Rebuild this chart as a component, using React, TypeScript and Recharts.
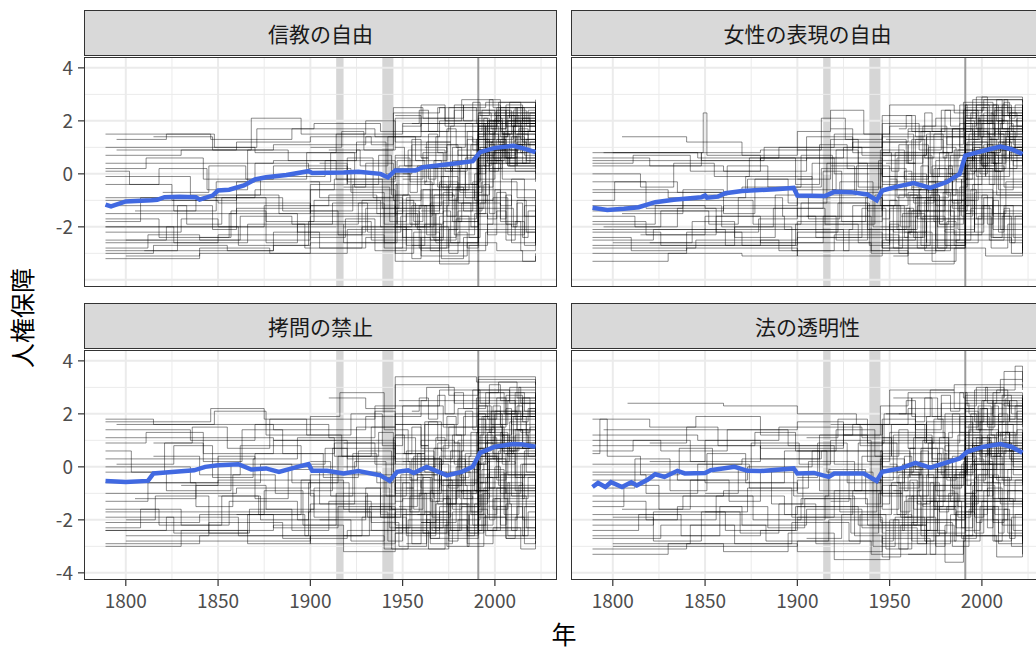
import { LineChart, Line, XAxis, YAxis, ReferenceLine, ReferenceArea } from "recharts";

const FONT = '"Noto Sans CJK JP", "Noto Sans", sans-serif';

type Pt = [number, number];

const X_DOMAIN = [1777.35, 2033.65];
const Y_DOMAIN = [-4.27, 4.41];
const X_TICKS = [1800, 1850, 1900, 1950, 2000];
const X_MINOR = [1825, 1875, 1925, 1975, 2025];
const Y_TICKS = [-4, -2, 0, 2, 4];
const Y_MINOR = [-3, -1, 1, 3];
const WAR_PERIODS: Pt[] = [
  [1914, 1918],
  [1939, 1945],
];
const COLD_WAR_END = 1991;

const PANEL_TITLES = ["信教の自由", "女性の表現の自由", "拷問の禁止", "法の透明性"];

// yearly mean across countries (blue line)
const MEAN_RELIGION: Pt[] = [
  [1789, -1.16], [1792, -1.23], [1800, -1.04], [1814, -1.0], [1817, -0.98], [1821, -0.88],
  [1829, -0.86], [1838, -0.88], [1840, -0.97], [1847, -0.82], [1850, -0.63], [1856, -0.6],
  [1864, -0.44], [1870, -0.21], [1876, -0.13], [1887, -0.04], [1899, 0.1], [1901, 0.03],
  [1918, 0.05], [1926, 0.08], [1938, 0.0], [1942, -0.13], [1946, 0.13], [1957, 0.13],
  [1961, 0.25], [1977, 0.38], [1988, 0.48], [1992, 0.82], [2000, 0.98], [2010, 1.06],
  [2015, 0.97], [2022, 0.82],
];
const MEAN_WOMEN: Pt[] = [
  [1789, -1.28], [1797, -1.36], [1806, -1.32], [1814, -1.26], [1823, -1.07], [1833, -0.98],
  [1848, -0.88], [1850, -0.82], [1851, -0.9], [1857, -0.86], [1861, -0.73], [1870, -0.65],
  [1888, -0.58], [1898, -0.53], [1900, -0.82], [1915, -0.84], [1920, -0.68], [1929, -0.69],
  [1938, -0.78], [1943, -1.0], [1946, -0.63], [1954, -0.48], [1963, -0.35], [1972, -0.53],
  [1981, -0.31], [1988, 0.0], [1991, 0.69], [1996, 0.78], [2003, 0.91], [2010, 1.03],
  [2016, 0.93], [2022, 0.75],
];
const MEAN_TORTURE: Pt[] = [
  [1789, -0.53], [1800, -0.57], [1812, -0.53], [1815, -0.25], [1825, -0.19], [1837, -0.13],
  [1843, 0.0], [1850, 0.06], [1861, 0.1], [1868, -0.1], [1876, -0.06], [1883, -0.19],
  [1893, 0.0], [1899, 0.1], [1901, -0.15], [1909, -0.15], [1918, -0.25], [1926, -0.16],
  [1938, -0.32], [1943, -0.53], [1947, -0.19], [1953, -0.13], [1956, -0.23], [1963, 0.0],
  [1974, -0.32], [1982, -0.19], [1988, 0.0], [1992, 0.53], [2000, 0.76], [2010, 0.86],
  [2015, 0.84], [2022, 0.76],
];
const MEAN_TRANSPARENCY: Pt[] = [
  [1789, -0.76], [1792, -0.61], [1796, -0.76], [1799, -0.58], [1805, -0.76], [1810, -0.58],
  [1813, -0.7], [1819, -0.48], [1823, -0.28], [1828, -0.38], [1835, -0.15], [1839, -0.25],
  [1850, -0.23], [1853, -0.13], [1866, 0.0], [1873, -0.15], [1880, -0.16], [1898, -0.06],
  [1900, -0.25], [1909, -0.23], [1917, -0.38], [1920, -0.25], [1936, -0.25], [1943, -0.53],
  [1946, -0.19], [1956, -0.06], [1964, 0.15], [1972, -0.03], [1982, 0.19], [1988, 0.32],
  [1992, 0.57], [2001, 0.76], [2010, 0.86], [2016, 0.76], [2022, 0.53],
];

// country trajectories, as [year, score] change points
const COUNTRIES_RELIGION: Pt[][] = [
  [[1789, -2.8], [1812, -2.3], [1840, -2.5], [1862, -1.6], [1890, -1.9], [1918, -2.6], [1946, -1.2], [1975, -0.4], [1991, 1.2], [2005, 1.6], [2022, 1.4]],
  [[1789, 0.7], [1830, 0.9], [1860, 1.2], [1900, 1.4], [1933, 1.1], [1945, 2.3], [1970, 2.5], [1995, 2.7], [2022, 2.4]],
  [[1789, -1.8], [1808, -0.9], [1826, -1.4], [1849, -0.3], [1870, 0.4], [1899, 0.2], [1922, -0.7], [1940, -1.9], [1947, 0.5], [1962, 0.2], [1990, 1.3], [2010, 1.8], [2022, 1.6]],
  [[1789, -3.0], [1815, -2.7], [1855, -2.9], [1880, -2.2], [1905, -2.8], [1930, -2.4], [1960, -3.1], [1985, -2.6], [2001, -2.9], [2015, -3.3], [2022, -3.0]],
  [[1789, 0.1], [1802, -0.4], [1818, 0.2], [1844, -0.6], [1866, 0.9], [1888, 0.5], [1914, -0.2], [1939, -1.3], [1948, 0.3], [1969, -0.5], [1992, 0.8], [2008, 0.3], [2022, 0.6]],
  [[1789, -2.2], [1830, -1.7], [1850, -2.0], [1875, -1.2], [1910, -0.8], [1936, -1.5], [1958, -2.1], [1980, -1.4], [1993, -0.3], [2012, -0.9], [2022, -0.6]],
  [[1795, 1.3], [1822, 1.5], [1848, 1.0], [1871, 1.7], [1902, 1.9], [1938, 1.6], [1946, 2.1], [1978, 2.4], [2000, 2.2], [2022, 2.0]],
  [[1810, -2.9], [1828, -1.2], [1847, -2.1], [1860, -0.8], [1883, -1.5], [1900, -0.4], [1920, 0.6], [1934, -0.9], [1950, -2.4], [1972, -1.8], [1991, 0.9], [2006, 0.4], [2022, 0.2]],
  [[1820, -0.7], [1845, 0.3], [1865, -0.2], [1898, 0.8], [1925, 1.2], [1941, 0.0], [1955, 1.1], [1980, 0.7], [1994, 1.9], [2022, 2.2]],
  [[1840, -2.4], [1857, -1.4], [1876, -2.6], [1893, -1.9], [1912, -1.1], [1931, -2.2], [1949, -1.6], [1966, -0.6], [1989, -1.0], [1999, 0.4], [2022, 0.9]],
  [[1900, -0.3], [1911, 0.8], [1924, -0.5], [1943, -1.8], [1952, -0.9], [1965, -2.5], [1979, -1.7], [1990, 0.2], [2004, 1.1], [2022, 0.5]],
  [[1900, 1.0], [1917, 1.6], [1929, 0.9], [1945, 2.5], [1961, 2.1], [1983, 2.6], [2003, 2.3], [2022, 2.5]],
  [[1900, -1.4], [1915, -2.3], [1928, -1.0], [1946, -3.0], [1956, -2.2], [1970, -3.4], [1986, -2.7], [1996, -1.9], [2009, -2.6], [2022, -2.2]],
  [[1905, 0.4], [1920, -0.4], [1937, 0.7], [1944, -0.8], [1953, 0.9], [1968, 1.4], [1988, 0.9], [1997, 2.0], [2022, 1.7]],
  [[1918, -1.9], [1926, -1.1], [1940, -2.6], [1947, -1.4], [1959, -2.8], [1974, -1.2], [1991, 1.5], [2002, 1.1], [2016, 1.9], [2022, 1.8]],
  [[1946, 0.6], [1954, -0.3], [1963, 1.2], [1976, 0.1], [1985, 1.6], [1993, 2.4], [2008, 2.1], [2022, 2.3]],
  [[1948, -1.1], [1957, -2.0], [1967, -0.8], [1978, -2.3], [1989, -1.5], [1995, 0.7], [2011, 1.3], [2022, 1.0]],
  [[1950, 1.8], [1960, 2.6], [1973, 2.0], [1982, 2.8], [1999, 2.5], [2022, 2.6]],
  [[1955, -2.7], [1962, -1.9], [1971, -3.2], [1983, -2.4], [1992, -1.1], [2003, -1.8], [2014, -2.9], [2022, -2.4]],
  [[1958, 0.2], [1965, -0.9], [1977, 0.5], [1987, -0.4], [1991, 1.7], [2001, 2.2], [2013, 1.6], [2022, 1.9]],
  [[1991, 1.0], [1996, 2.0], [2004, 1.5], [2010, 2.4], [2017, 1.8], [2022, 2.1]],
  [[1991, 0.3], [1998, 1.2], [2005, 0.6], [2012, 1.5], [2022, 1.1]],
  [[1991, -0.8], [1997, 0.4], [2003, -1.2], [2009, -0.2], [2016, -1.6], [2022, -0.9]],
  [[1991, 1.6], [1999, 0.9], [2006, 2.0], [2014, 1.3], [2022, 1.5]],
  [[1789, -2.6], [1850, -2.3], [1900, -1.2], [1946, -2.0], [1991, 0.6], [2022, 0.9]],
  [[1789, 1.0], [1870, 0.8], [1914, 1.5], [1950, 1.9], [1991, 2.3], [2022, 2.1]],
  [[1789, -0.4], [1825, -1.0], [1860, -0.3], [1905, -0.9], [1945, -0.1], [1980, -1.1], [1995, 0.5], [2022, 0.2]],
  [[1800, -3.1], [1840, -2.8], [1878, -3.0], [1920, -2.1], [1960, -2.9], [1995, -2.2], [2022, -2.7]],
  [[1789, -1.2], [1833, -1.9], [1852, -0.9], [1885, -1.4], [1923, -0.4], [1947, -1.9], [1972, -1.0], [1991, 0.1], [2022, -0.3]],
  [[1815, 1.4], [1847, 0.9], [1868, 2.1], [1895, 1.5], [1930, 2.0], [1946, 1.2], [1976, 1.8], [2001, 2.5], [2022, 2.8]],
  [[1900, -2.4], [1919, -1.7], [1935, -2.9], [1952, -1.5], [1968, -2.6], [1991, -1.3], [2010, -2.0], [2022, -1.6]],
  [[1910, 0.9], [1927, 0.3], [1942, 1.4], [1957, 0.5], [1974, 1.1], [1991, 1.9], [2022, 1.5]],
  [[1918, -0.5], [1930, 0.4], [1945, -1.0], [1960, 0.3], [1981, -0.7], [1993, 0.9], [2012, 0.3], [2022, 0.6]],
  [[1946, -2.0], [1955, -1.2], [1966, -2.4], [1979, -0.9], [1991, 0.5], [2004, -0.2], [2022, 0.1]],
  [[1946, 2.2], [1960, 1.6], [1975, 2.5], [1990, 1.9], [2002, 2.7], [2022, 2.2]],
  [[1950, -0.2], [1961, 0.8], [1972, -0.6], [1984, 0.6], [1991, 1.4], [2007, 2.0], [2022, 1.8]],
  [[1960, -1.4], [1970, -0.3], [1980, -1.8], [1991, -0.5], [1999, 0.8], [2011, 0.1], [2022, 0.5]],
  [[1962, 1.0], [1974, 0.2], [1985, 1.3], [1991, 2.2], [2003, 1.6], [2022, 2.0]],
  [[1991, 2.3], [1998, 1.7], [2006, 2.6], [2015, 2.0], [2022, 2.4]],
  [[1991, 0.7], [1995, 1.8], [2002, 1.2], [2011, 2.1], [2022, 1.7]],
  [[1991, -1.9], [1999, -0.9], [2007, -2.3], [2016, -1.2], [2022, -2.6]],
  [[1991, 1.3], [1997, 0.5], [2005, 1.4], [2014, 0.8], [2022, 1.2]],
  [[1991, -0.2], [2000, 1.0], [2008, 0.4], [2017, 1.3], [2022, 0.9]],
  [[1991, 2.0], [2003, 2.5], [2012, 1.9], [2022, 2.3]],
  [[1789, -2.9], [1880, -2.7], [1900, -2.0], [1946, -2.6], [1991, -1.0], [2022, -1.4]],
  [[1789, -1.5], [1860, -1.3], [1900, -0.6], [1946, -1.3], [1991, 0.4], [2022, 0.0]],
  [[1789, 0.4], [1880, 0.5], [1925, 0.9], [1946, 1.6], [2022, 1.9]],
  [[1789, -2.0], [1900, -1.6], [1946, -0.8], [1991, 1.1], [2022, 1.3]],
  [[1789, -0.9], [1870, -0.6], [1913, -0.2], [1946, 0.2], [1991, 1.5], [2022, 1.2]],
  [[1795, 0.9], [1880, 1.1], [1930, 1.4], [1960, 1.9], [2022, 2.6]],
  [[1800, -2.5], [1900, -2.3], [1940, -2.8], [1975, -2.1], [2022, -2.5]],
  [[1789, -1.0], [1850, -1.1], [1900, -1.5], [1946, -0.4], [1991, 0.6], [2022, 0.4]],
  [[1946, -1.5], [1950, -0.8], [1954, -1.9], [1959, -1.2], [1963, -2.3], [1968, -1.5], [1972, -0.7], [1977, -1.8], [1982, -1.1], [1987, -2.0], [1991, 0.3], [1995, 1.2], [1999, 0.6], [2004, 1.5], [2008, 0.9], [2013, 1.7], [2018, 1.1], [2022, 1.4]],
  [[1946, 1.0], [1951, 0.3], [1955, 1.3], [1960, 0.6], [1964, 1.5], [1969, 0.8], [1974, 1.7], [1979, 1.0], [1984, 1.9], [1988, 1.2], [1991, 2.1], [1996, 1.6], [2001, 2.4], [2006, 1.8], [2011, 2.5], [2016, 1.9], [2022, 2.2]],
  [[1946, -2.8], [1950, -2.1], [1955, -3.2], [1960, -2.4], [1965, -2.9], [1970, -2.0], [1975, -3.0], [1980, -2.2], [1985, -2.8], [1991, -1.5], [1996, -2.3], [2001, -1.4], [2006, -2.5], [2011, -1.8], [2016, -2.7], [2022, -2.0]],
  [[1950, 0.0], [1954, -0.7], [1958, 0.3], [1962, -0.4], [1967, 0.5], [1971, -0.5], [1976, 0.4], [1981, -0.6], [1986, 0.2], [1991, 1.3], [1995, 0.7], [2000, 1.6], [2005, 1.0], [2010, 1.8], [2015, 1.2], [2022, 1.5]],
  [[1952, -1.0], [1956, -1.8], [1961, -0.6], [1965, -1.5], [1970, -0.4], [1974, -1.6], [1979, -0.5], [1983, -1.4], [1988, -0.3], [1992, 0.8], [1997, 0.1], [2002, 1.0], [2007, 0.3], [2012, 1.2], [2017, 0.5], [2022, 0.8]],
  [[1955, 1.9], [1959, 2.4], [1964, 1.6], [1969, 2.5], [1973, 1.8], [1978, 2.6], [1983, 2.0], [1988, 2.7], [1992, 2.2], [1997, 2.8], [2003, 2.1], [2008, 2.7], [2014, 2.2], [2022, 2.5]],
  [[1958, -2.0], [1962, -1.2], [1967, -2.5], [1972, -1.4], [1976, -2.6], [1981, -1.6], [1986, -2.4], [1991, -0.8], [1996, -1.7], [2001, -0.7], [2006, -1.9], [2012, -1.0], [2017, -2.2], [2022, -1.3]],
  [[1960, 0.6], [1964, -0.2], [1968, 0.9], [1973, 0.1], [1977, 1.0], [1982, 0.2], [1987, 1.1], [1991, 1.9], [1995, 1.3], [2000, 2.1], [2004, 1.5], [2009, 2.2], [2014, 1.6], [2019, 2.3], [2022, 1.8]],
  [[1962, -0.3], [1966, -1.2], [1971, -0.1], [1975, -1.0], [1980, 0.1], [1984, -0.9], [1989, 0.0], [1992, 1.0], [1996, 0.4], [2001, 1.3], [2006, 0.6], [2011, 1.4], [2016, 0.7], [2022, 1.1]],
  [[1991, 1.4], [1994, 2.1], [1997, 1.5], [2000, 2.3], [2003, 1.7], [2006, 2.4], [2009, 1.8], [2012, 2.5], [2015, 1.9], [2018, 2.4], [2022, 2.0]],
  [[1991, 0.9], [1994, 0.3], [1997, 1.1], [2000, 0.5], [2003, 1.3], [2006, 0.6], [2009, 1.4], [2012, 0.8], [2015, 1.5], [2018, 0.9], [2022, 1.3]],
  [[1991, -1.3], [1994, -0.4], [1997, -1.5], [2000, -0.6], [2003, -1.7], [2006, -0.8], [2009, -2.0], [2012, -1.1], [2015, -2.4], [2018, -1.4], [2022, -2.1]],
  [[1991, 1.8], [1995, 1.2], [1999, 2.0], [2003, 1.4], [2007, 2.2], [2011, 1.5], [2015, 2.1], [2019, 1.6], [2022, 1.9]],
  [[1991, 0.0], [1995, 0.9], [1999, 0.2], [2003, 1.0], [2007, 0.3], [2011, 1.1], [2015, 0.4], [2019, 1.2], [2022, 0.6]],
  [[1789, -3.2], [1840, -3.0], [1900, -2.6], [1946, -3.3], [2022, -3.1]],
  [[1789, -1.7], [1818, -2.4], [1856, -1.5], [1893, -2.2], [1930, -1.3], [1960, -0.6], [1991, 0.8], [2022, 1.0]],
  [[1789, 0.2], [1811, 0.6], [1842, -0.2], [1880, 0.3], [1920, -0.3], [1946, 0.7], [1991, 1.8], [2022, 2.0]],
  [[1789, -2.5], [1822, -2.0], [1861, -2.7], [1899, -1.8], [1933, -2.5], [1970, -1.6], [2022, -1.9]],
  [[1789, -0.1], [1835, -0.8], [1873, -0.1], [1908, 0.5], [1946, 0.1], [1980, 0.9], [2022, 1.6]],
  [[1805, -1.4], [1838, -0.9], [1876, -1.8], [1902, -1.0], [1938, -2.0], [1965, -1.1], [1991, 0.2], [2022, 0.7]],
  [[1789, 1.5], [1846, 1.3], [1890, 1.7], [1935, 1.4], [1970, 2.0], [2022, 2.3]],
  [[1789, -2.0], [1826, -2.6], [1866, -1.9], [1897, -2.8], [1928, -2.0], [1952, -2.7], [1991, -0.6], [2022, -1.0]],
];
const COUNTRIES_WOMEN: Pt[][] = [
  [[1789, -1.6], [1812, -2.0], [1835, -1.3], [1856, -2.2], [1879, -1.7], [1900, -0.6], [1921, 0.9], [1933, -0.5], [1946, 1.2], [1967, 1.6], [1990, 2.4], [2022, 2.2]],
  [[1789, 0.6], [1820, 0.3], [1848, 0.8], [1849, 2.3], [1851, 0.7], [1880, 0.5], [1905, 1.4], [1930, 0.8], [1950, 1.8], [1975, 2.1], [1995, 2.8], [2022, 2.5]],
  [[1789, -2.4], [1810, -2.9], [1840, -2.2], [1870, -2.7], [1900, -2.1], [1925, -2.9], [1950, -1.8], [1970, -2.6], [1991, -0.9], [2010, -2.1], [2022, -1.7]],
  [[1789, -1.0], [1801, -0.3], [1818, -1.3], [1838, -0.6], [1860, -1.5], [1877, -0.2], [1895, -1.1], [1916, 0.4], [1938, -1.4], [1946, 0.2], [1959, -0.9], [1982, 0.3], [1993, 1.5], [2012, 1.0], [2022, 0.7]],
  [[1789, -3.3], [1830, -3.0], [1870, -3.1], [1900, -2.6], [1940, -2.9], [1960, -3.4], [1985, -2.8], [2002, -3.1], [2022, -2.7]],
  [[1789, 0.0], [1815, -0.5], [1833, 0.4], [1855, -0.1], [1874, 0.6], [1899, -0.4], [1912, 1.1], [1927, 0.2], [1945, -1.2], [1953, 0.8], [1972, 0.0], [1991, 1.9], [2007, 1.4], [2022, 1.6]],
  [[1795, -2.0], [1826, -1.4], [1852, -1.9], [1868, -0.9], [1892, -1.6], [1910, -2.4], [1935, -1.3], [1948, -2.5], [1964, -1.6], [1980, -2.2], [1996, -0.7], [2022, -1.1]],
  [[1805, 1.4], [1840, 1.2], [1870, 0.7], [1900, 1.6], [1918, 2.4], [1936, 1.5], [1950, 2.6], [1985, 2.3], [2000, 2.9], [2022, 2.7]],
  [[1820, -2.6], [1843, -1.8], [1866, -2.4], [1888, -0.8], [1906, -1.7], [1923, -0.3], [1941, -2.0], [1955, -0.8], [1977, -1.9], [1990, 0.6], [2004, -0.4], [2022, 0.1]],
  [[1850, -0.8], [1862, 0.3], [1884, -0.5], [1902, 0.7], [1919, -0.6], [1944, 0.5], [1962, 1.3], [1979, 0.6], [1988, 1.9], [2005, 2.3], [2022, 2.0]],
  [[1900, -1.3], [1914, 0.1], [1924, -1.8], [1937, -0.9], [1946, -2.8], [1957, -1.5], [1969, -2.9], [1983, -1.2], [1993, 0.4], [2008, -0.8], [2022, -0.3]],
  [[1900, 0.9], [1913, 2.1], [1926, 1.3], [1946, 1.9], [1966, 0.9], [1978, 1.7], [1991, 2.6], [2014, 2.2], [2022, 2.4]],
  [[1910, -2.2], [1922, -1.1], [1939, -2.7], [1950, -1.3], [1961, -2.3], [1975, -0.6], [1987, -1.4], [1992, 1.2], [2003, 0.6], [2022, 0.9]],
  [[1918, 0.3], [1931, -0.7], [1945, 0.9], [1958, -0.2], [1971, 1.0], [1986, -0.3], [1991, 2.0], [2009, 1.5], [2022, 1.2]],
  [[1946, -0.4], [1954, 0.6], [1963, -1.1], [1974, 0.2], [1984, -0.8], [1991, 1.4], [1998, 2.1], [2011, 1.7], [2022, 1.9]],
  [[1948, 1.3], [1959, 0.4], [1968, 1.8], [1981, 1.1], [1990, 2.7], [2006, 2.2], [2022, 2.6]],
  [[1952, -3.1], [1960, -2.2], [1973, -3.3], [1986, -2.5], [1994, -1.3], [2005, -2.4], [2016, -3.0], [2022, -2.6]],
  [[1956, -1.6], [1966, -0.6], [1976, -2.0], [1985, -1.0], [1991, 0.9], [2001, 0.2], [2013, 1.3], [2022, 0.8]],
  [[1960, 0.0], [1970, -1.4], [1980, -0.2], [1989, -1.6], [1995, -0.4], [2007, 0.9], [2022, 0.4]],
  [[1991, 1.8], [1997, 2.6], [2004, 1.9], [2012, 2.8], [2022, 2.3]],
  [[1991, 0.5], [1996, 1.6], [2003, 0.8], [2010, 1.9], [2017, 1.1], [2022, 1.4]],
  [[1991, -1.0], [1998, 0.2], [2006, -1.5], [2013, -0.3], [2022, -2.0]],
  [[1991, 1.1], [2000, 0.3], [2007, 1.6], [2015, 0.7], [2022, 1.0]],
  [[1991, -2.1], [1996, -1.2], [2004, -2.5], [2012, -1.4], [2022, -1.8]],
  [[1789, -2.8], [1845, -2.5], [1890, -2.9], [1920, -2.3], [1955, -2.7], [1991, -1.5], [2022, -2.1]],
  [[1789, 0.3], [1860, 0.1], [1905, 0.6], [1946, -0.3], [1985, 0.9], [1991, 1.7], [2022, 1.5]],
  [[1789, -1.9], [1823, -1.2], [1859, -2.0], [1887, -1.3], [1915, -1.9], [1942, -0.8], [1967, -1.7], [1991, -0.2], [2022, -0.6]],
  [[1789, -0.6], [1830, -0.9], [1872, -0.1], [1908, -0.8], [1932, 0.3], [1950, -0.6], [1975, 0.5], [1995, 1.2], [2022, 0.9]],
  [[1800, 0.8], [1848, 0.5], [1882, 1.0], [1920, 1.5], [1946, 0.7], [1970, 1.4], [1991, 2.2], [2022, 2.0]],
  [[1815, -2.3], [1850, -1.6], [1880, -2.6], [1914, -1.6], [1940, -2.4], [1960, -1.4], [1985, -2.3], [2000, -1.2], [2022, -1.9]],
  [[1900, -0.2], [1918, 1.3], [1933, 0.4], [1946, 1.5], [1963, 0.6], [1981, 1.4], [1991, 2.5], [2022, 2.1]],
  [[1905, -1.6], [1921, -2.5], [1938, -1.2], [1952, -2.2], [1970, -1.0], [1991, 0.3], [2012, -0.5], [2022, -0.1]],
  [[1918, 1.7], [1930, 1.0], [1946, 2.2], [1962, 1.6], [1980, 2.4], [1998, 2.0], [2022, 2.6]],
  [[1946, -1.2], [1958, -2.4], [1969, -1.0], [1980, -2.7], [1991, -0.6], [2006, -1.6], [2022, -1.0]],
  [[1948, 0.4], [1960, 1.1], [1971, -0.3], [1983, 0.7], [1991, 1.6], [2004, 1.0], [2022, 1.4]],
  [[1952, -2.1], [1964, -0.9], [1975, -2.5], [1988, -1.2], [1996, 0.1], [2010, -0.9], [2022, -0.4]],
  [[1960, 1.6], [1972, 0.8], [1984, 1.7], [1991, 2.6], [2008, 2.0], [2022, 2.4]],
  [[1962, -0.9], [1973, 0.3], [1984, -1.3], [1991, 0.8], [2002, -0.1], [2015, 0.8], [2022, 0.3]],
  [[1991, 2.1], [1999, 1.4], [2007, 2.5], [2016, 1.6], [2022, 1.9]],
  [[1991, 0.0], [1996, 1.0], [2005, 0.4], [2013, 1.4], [2022, 0.9]],
  [[1991, -2.6], [1998, -1.6], [2005, -2.8], [2014, -1.9], [2022, -3.0]],
  [[1991, 1.3], [1998, 2.0], [2006, 1.1], [2015, 1.8], [2022, 1.5]],
  [[1991, -0.4], [2000, 0.7], [2009, -0.6], [2017, 0.5], [2022, -0.2]],
  [[1991, 2.4], [2001, 2.8], [2011, 2.2], [2022, 2.6]],
  [[1789, -2.7], [1880, -2.5], [1900, -2.2], [1946, -2.8], [1991, -1.2], [2022, -1.6]],
  [[1789, -1.4], [1860, -1.2], [1900, -0.9], [1946, -1.4], [1991, 0.2], [2022, -0.2]],
  [[1789, 0.5], [1880, 0.6], [1925, 1.0], [1946, 1.4], [2022, 2.1]],
  [[1789, -2.1], [1900, -1.8], [1946, -1.0], [1991, 0.9], [2022, 1.1]],
  [[1789, -0.7], [1870, -0.5], [1913, 0.2], [1946, -0.1], [1991, 1.3], [2022, 1.0]],
  [[1795, 0.8], [1880, 0.9], [1930, 1.2], [1960, 1.7], [2022, 2.4]],
  [[1800, -2.6], [1900, -2.4], [1940, -3.0], [1975, -2.3], [2022, -2.8]],
  [[1789, -1.2], [1850, -1.3], [1900, -1.6], [1946, -0.6], [1991, 0.5], [2022, 0.2]],
  [[1946, -1.7], [1950, -1.0], [1954, -2.1], [1959, -1.3], [1963, -2.4], [1968, -1.6], [1972, -0.8], [1977, -1.9], [1982, -1.0], [1987, -2.1], [1991, 0.2], [1995, 1.0], [1999, 0.4], [2004, 1.3], [2008, 0.7], [2013, 1.6], [2018, 0.9], [2022, 1.2]],
  [[1946, 0.8], [1951, 0.1], [1955, 1.1], [1960, 0.4], [1964, 1.3], [1969, 0.6], [1974, 1.5], [1979, 0.8], [1984, 1.7], [1988, 1.0], [1991, 2.0], [1996, 1.4], [2001, 2.3], [2006, 1.7], [2011, 2.6], [2016, 1.8], [2022, 2.1]],
  [[1946, -2.6], [1950, -1.9], [1955, -3.0], [1960, -2.2], [1965, -2.8], [1970, -1.8], [1975, -2.9], [1980, -2.1], [1985, -2.7], [1991, -1.4], [1996, -2.2], [2001, -1.2], [2006, -2.4], [2011, -1.6], [2016, -2.6], [2022, -1.9]],
  [[1950, -0.2], [1954, -0.9], [1958, 0.1], [1962, -0.6], [1967, 0.3], [1971, -0.7], [1976, 0.2], [1981, -0.8], [1986, 0.0], [1991, 1.1], [1995, 0.5], [2000, 1.4], [2005, 0.8], [2010, 1.6], [2015, 1.0], [2022, 1.3]],
  [[1952, -1.2], [1956, -2.0], [1961, -0.8], [1965, -1.7], [1970, -0.6], [1974, -1.8], [1979, -0.7], [1983, -1.6], [1988, -0.5], [1992, 0.6], [1997, -0.1], [2002, 0.8], [2007, 0.1], [2012, 1.0], [2017, 0.3], [2022, 0.6]],
  [[1955, 1.7], [1959, 2.2], [1964, 1.4], [1969, 2.3], [1973, 1.6], [1978, 2.4], [1983, 1.8], [1988, 2.6], [1992, 2.1], [1997, 2.9], [2003, 2.2], [2008, 2.8], [2014, 2.3], [2022, 2.6]],
  [[1958, -2.2], [1962, -1.4], [1967, -2.7], [1972, -1.6], [1976, -2.8], [1981, -1.8], [1986, -2.6], [1991, -1.0], [1996, -1.9], [2001, -0.9], [2006, -2.1], [2012, -1.2], [2017, -2.4], [2022, -1.5]],
  [[1960, 0.4], [1964, -0.4], [1968, 0.7], [1973, -0.1], [1977, 0.8], [1982, 0.0], [1987, 0.9], [1991, 1.7], [1995, 1.1], [2000, 1.9], [2004, 1.3], [2009, 2.0], [2014, 1.4], [2019, 2.1], [2022, 1.6]],
  [[1962, -0.5], [1966, -1.4], [1971, -0.3], [1975, -1.2], [1980, -0.1], [1984, -1.1], [1989, -0.2], [1992, 0.8], [1996, 0.2], [2001, 1.1], [2006, 0.4], [2011, 1.2], [2016, 0.5], [2022, 0.9]],
  [[1991, 1.6], [1994, 2.3], [1997, 1.7], [2000, 2.5], [2003, 1.9], [2006, 2.6], [2009, 2.0], [2012, 2.7], [2015, 2.1], [2018, 2.6], [2022, 2.2]],
  [[1991, 0.7], [1994, 0.1], [1997, 0.9], [2000, 0.3], [2003, 1.1], [2006, 0.4], [2009, 1.2], [2012, 0.6], [2015, 1.3], [2018, 0.7], [2022, 1.1]],
  [[1991, -1.5], [1994, -0.6], [1997, -1.7], [2000, -0.8], [2003, -1.9], [2006, -1.0], [2009, -2.2], [2012, -1.3], [2015, -2.6], [2018, -1.6], [2022, -2.3]],
  [[1991, 1.9], [1995, 1.3], [1999, 2.2], [2003, 1.5], [2007, 2.4], [2011, 1.7], [2015, 2.3], [2019, 1.8], [2022, 2.1]],
  [[1991, -0.2], [1995, 0.7], [1999, 0.0], [2003, 0.8], [2007, 0.1], [2011, 0.9], [2015, 0.2], [2019, 1.0], [2022, 0.4]],
  [[1789, -3.0], [1840, -2.8], [1900, -3.1], [1946, -2.5], [2022, -2.9]],
  [[1789, -1.8], [1818, -2.3], [1856, -1.6], [1893, -2.1], [1930, -1.2], [1960, -0.7], [1991, 0.6], [2022, 0.8]],
  [[1789, 0.4], [1811, 0.7], [1842, 0.1], [1880, 0.6], [1920, 0.0], [1946, 0.8], [1991, 1.6], [2022, 1.8]],
  [[1789, -2.5], [1822, -2.1], [1861, -2.7], [1899, -1.9], [1933, -2.6], [1970, -1.7], [2022, -2.0]],
  [[1789, -0.3], [1835, -0.7], [1873, -0.2], [1908, 0.4], [1946, -0.1], [1980, 0.7], [2022, 1.3]],
  [[1805, -1.5], [1838, -1.0], [1876, -1.9], [1902, -1.1], [1938, -2.1], [1965, -1.2], [1991, 0.1], [2022, 0.5]],
  [[1789, 0.8], [1846, 0.6], [1890, 1.0], [1935, 0.7], [1970, 1.5], [2022, 2.2]],
  [[1789, -2.2], [1826, -2.7], [1866, -2.0], [1897, -2.9], [1928, -2.1], [1952, -2.8], [1991, -0.8], [2022, -1.2]],
];
const COUNTRIES_TORTURE: Pt[][] = [
  [[1789, 1.8], [1815, 1.6], [1848, 2.1], [1876, 1.2], [1900, 1.9], [1916, 2.8], [1940, 1.4], [1946, 3.4], [1990, 3.2], [2022, 3.0]],
  [[1789, -2.3], [1808, -1.6], [1830, -2.2], [1852, -1.1], [1873, -2.0], [1899, -0.6], [1921, -1.7], [1942, -2.8], [1950, -1.2], [1966, -2.4], [1982, -1.5], [1992, 0.7], [2009, -0.2], [2022, 0.3]],
  [[1789, 0.6], [1803, -0.2], [1821, 0.9], [1842, 0.2], [1863, 1.4], [1885, 0.5], [1907, -0.4], [1926, 0.6], [1944, -1.6], [1955, 0.3], [1971, -0.9], [1991, 1.6], [2004, 1.1], [2022, 1.5]],
  [[1789, -3.0], [1830, -2.4], [1866, -2.9], [1900, -2.2], [1918, -3.2], [1946, -2.5], [1968, -2.0], [1985, -2.9], [1999, -2.3], [2014, -3.1], [2022, -2.8]],
  [[1789, -1.3], [1812, -0.6], [1838, -1.5], [1858, -0.3], [1881, -1.0], [1902, -1.9], [1930, -0.8], [1943, -2.3], [1954, -1.1], [1975, -2.6], [1989, -1.4], [1996, 0.2], [2011, -0.9], [2022, -0.5]],
  [[1795, 0.1], [1826, 0.8], [1847, -0.4], [1869, 0.3], [1893, 1.1], [1913, 0.4], [1937, 1.3], [1945, -0.2], [1960, 1.0], [1978, 0.1], [1993, 1.9], [2022, 1.6]],
  [[1800, -2.0], [1816, -1.1], [1845, -2.5], [1867, -1.6], [1890, -2.4], [1910, -1.3], [1933, -2.1], [1948, -3.0], [1963, -1.8], [1986, -2.5], [1994, -0.8], [2022, -1.4]],
  [[1815, 0.9], [1836, 1.5], [1855, 0.7], [1878, 1.8], [1898, 1.2], [1922, 2.0], [1939, 0.8], [1950, 2.3], [1972, 1.5], [1990, 2.6], [2022, 2.3]],
  [[1830, -0.7], [1850, 0.4], [1870, -1.2], [1888, -0.1], [1905, -1.4], [1924, 0.2], [1941, -1.1], [1952, 0.6], [1967, -0.5], [1984, 0.5], [1992, 1.2], [2007, 0.4], [2022, 0.8]],
  [[1860, -1.8], [1875, -0.9], [1896, -2.2], [1914, -1.0], [1931, -1.9], [1946, -0.5], [1960, -2.1], [1979, -0.9], [1991, -2.4], [2003, -1.3], [2022, -1.9]],
  [[1900, 0.2], [1911, -1.1], [1923, 0.5], [1936, -0.6], [1945, 1.1], [1957, -0.3], [1969, 0.9], [1981, -1.2], [1991, 0.9], [2010, 1.9], [2022, 1.3]],
  [[1900, -0.9], [1912, 0.7], [1920, -0.2], [1938, -1.9], [1949, -0.3], [1961, -2.5], [1974, -1.1], [1988, -2.2], [1995, -0.4], [2022, -0.9]],
  [[1910, 2.6], [1930, 2.2], [1946, 3.1], [1975, 2.7], [1991, 3.3], [2022, 3.1]],
  [[1918, -2.6], [1932, -1.5], [1944, -3.1], [1953, -2.0], [1965, -2.9], [1977, -1.7], [1991, 0.4], [2002, -0.7], [2015, 0.1], [2022, -0.3]],
  [[1946, 1.4], [1953, 0.2], [1962, 1.7], [1971, 0.6], [1983, 1.9], [1991, 2.9], [2008, 2.4], [2022, 2.7]],
  [[1948, -1.5], [1958, -0.4], [1966, -1.9], [1976, -0.2], [1987, -1.7], [1993, -0.1], [2005, -1.2], [2016, -0.3], [2022, -1.0]],
  [[1950, 0.5], [1960, -0.8], [1970, 0.4], [1982, -1.0], [1990, 1.3], [1998, 2.1], [2012, 1.4], [2022, 1.8]],
  [[1955, -2.4], [1964, -3.1], [1973, -2.2], [1985, -3.0], [1994, -1.9], [2006, -2.7], [2022, -2.2]],
  [[1960, -0.3], [1969, -1.4], [1979, 0.0], [1989, -0.9], [1996, 1.0], [2009, 0.5], [2022, 0.9]],
  [[1991, 1.9], [1997, 2.8], [2005, 2.0], [2013, 3.0], [2022, 2.5]],
  [[1991, 0.6], [1998, 1.5], [2004, 0.1], [2011, 1.2], [2018, 0.4], [2022, 0.7]],
  [[1991, -1.2], [1997, -0.2], [2005, -1.8], [2013, -0.7], [2022, -1.5]],
  [[1991, 1.1], [2001, 0.2], [2008, 1.7], [2017, 0.9], [2022, 1.3]],
  [[1991, -0.4], [1999, -1.6], [2007, -0.6], [2015, -2.0], [2022, -1.1]],
  [[1789, -2.1], [1840, -1.8], [1880, -2.3], [1915, -1.5], [1946, -2.2], [1975, -1.4], [1991, -0.3], [2022, -0.8]],
  [[1789, 1.4], [1835, 1.0], [1870, 1.6], [1910, 1.1], [1935, 2.1], [1946, 1.6], [1980, 2.2], [1995, 2.8], [2022, 2.6]],
  [[1789, -0.2], [1822, -0.9], [1857, 0.1], [1890, -0.6], [1915, 0.4], [1946, -0.9], [1970, 0.2], [1991, -0.8], [2022, -0.2]],
  [[1800, -2.6], [1845, -2.1], [1885, -2.7], [1920, -2.4], [1946, -1.7], [1965, -2.7], [1991, -1.9], [2022, -2.5]],
  [[1815, 0.4], [1840, -0.3], [1862, 0.8], [1895, 0.0], [1925, 1.0], [1946, 0.1], [1972, 0.8], [1991, 1.8], [2022, 1.2]],
  [[1850, -1.1], [1872, -1.8], [1895, -0.5], [1918, -1.6], [1940, -0.4], [1955, -1.8], [1975, -0.6], [1991, 0.5], [2022, 0.0]],
  [[1900, 1.2], [1917, 0.4], [1933, 1.5], [1946, 0.5], [1962, 1.6], [1978, 0.9], [1991, 2.1], [2022, 1.8]],
  [[1905, -2.0], [1922, -2.8], [1940, -1.6], [1952, -2.6], [1968, -1.4], [1985, -2.4], [1993, -1.0], [2022, -1.6]],
  [[1918, 0.9], [1935, 0.1], [1946, 1.6], [1960, 0.7], [1975, 1.5], [1991, 2.4], [2022, 2.0]],
  [[1946, -0.8], [1956, 0.4], [1967, -1.2], [1980, 0.2], [1991, -1.3], [2003, -0.3], [2022, -0.7]],
  [[1948, 2.5], [1963, 3.0], [1978, 2.4], [1991, 3.4], [2022, 3.2]],
  [[1952, -2.9], [1963, -2.0], [1974, -3.0], [1986, -1.8], [1995, -2.6], [2022, -2.1]],
  [[1960, 0.3], [1971, -0.7], [1982, 0.6], [1991, 1.5], [2005, 0.8], [2022, 1.1]],
  [[1962, -1.7], [1974, -0.7], [1985, -2.0], [1992, -0.6], [2008, -1.4], [2022, -0.9]],
  [[1991, 2.3], [1998, 1.6], [2006, 2.7], [2015, 1.9], [2022, 2.2]],
  [[1991, 0.1], [1996, 1.3], [2004, 0.6], [2012, 1.6], [2022, 1.0]],
  [[1991, -2.2], [1999, -1.2], [2007, -2.6], [2016, -1.5], [2022, -2.9]],
  [[1991, 1.5], [2000, 0.8], [2009, 1.9], [2017, 1.2], [2022, 1.6]],
  [[1991, -0.9], [1997, 0.3], [2006, -1.0], [2014, 0.1], [2022, -0.5]],
  [[1991, 2.8], [2002, 3.2], [2012, 2.6], [2022, 2.9]],
  [[1789, -2.4], [1880, -2.2], [1900, -1.6], [1946, -2.3], [1991, -1.1], [2022, -1.5]],
  [[1789, -1.0], [1860, -0.8], [1900, -0.3], [1946, -1.0], [1991, 0.3], [2022, 0.0]],
  [[1789, 1.1], [1880, 1.0], [1925, 1.5], [1946, 2.0], [2022, 2.4]],
  [[1789, -1.7], [1900, -1.4], [1946, -0.6], [1991, 0.9], [2022, 1.0]],
  [[1789, 0.3], [1870, 0.5], [1913, 0.9], [1946, 0.3], [1991, 1.4], [2022, 1.1]],
  [[1795, 1.6], [1880, 1.4], [1930, 1.9], [1960, 2.5], [2022, 2.8]],
  [[1800, -2.8], [1900, -2.6], [1940, -3.1], [1975, -2.4], [2022, -2.7]],
  [[1789, -0.6], [1850, -0.5], [1900, -1.1], [1946, -0.2], [1991, 0.7], [2022, 0.4]],
  [[1946, -1.3], [1950, -0.6], [1954, -1.7], [1959, -1.0], [1963, -2.1], [1968, -1.3], [1972, -0.5], [1977, -1.6], [1982, -0.9], [1987, -1.8], [1991, 0.1], [1995, 0.9], [1999, 0.3], [2004, 1.2], [2008, 0.6], [2013, 1.4], [2018, 0.8], [2022, 1.1]],
  [[1946, 1.2], [1951, 0.5], [1955, 1.5], [1960, 0.8], [1964, 1.7], [1969, 1.0], [1974, 1.9], [1979, 1.2], [1984, 2.1], [1988, 1.4], [1991, 2.3], [1996, 1.8], [2001, 2.6], [2006, 2.0], [2011, 2.8], [2016, 2.1], [2022, 2.4]],
  [[1946, -2.5], [1950, -1.8], [1955, -2.9], [1960, -2.1], [1965, -2.7], [1970, -1.7], [1975, -2.8], [1980, -2.0], [1985, -2.6], [1991, -1.6], [1996, -2.4], [2001, -1.5], [2006, -2.7], [2011, -1.9], [2016, -2.9], [2022, -2.3]],
  [[1950, 0.2], [1954, -0.5], [1958, 0.5], [1962, -0.2], [1967, 0.7], [1971, -0.3], [1976, 0.6], [1981, -0.4], [1986, 0.4], [1991, 1.0], [1995, 0.3], [2000, 1.2], [2005, 0.5], [2010, 1.4], [2015, 0.7], [2022, 1.0]],
  [[1952, -0.8], [1956, -1.6], [1961, -0.4], [1965, -1.3], [1970, -0.2], [1974, -1.4], [1979, -0.3], [1983, -1.2], [1988, -0.1], [1992, 0.5], [1997, -0.4], [2002, 0.6], [2007, -0.3], [2012, 0.7], [2017, -0.2], [2022, 0.3]],
  [[1955, 2.1], [1959, 2.6], [1964, 1.8], [1969, 2.7], [1973, 2.0], [1978, 2.8], [1983, 2.2], [1988, 2.9], [1992, 2.4], [1997, 3.1], [2003, 2.5], [2008, 3.0], [2014, 2.4], [2022, 2.7]],
  [[1958, -1.8], [1962, -1.0], [1967, -2.3], [1972, -1.2], [1976, -2.4], [1981, -1.4], [1986, -2.2], [1991, -0.9], [1996, -1.8], [2001, -0.8], [2006, -2.0], [2012, -1.1], [2017, -2.3], [2022, -1.4]],
  [[1960, 0.8], [1964, 0.0], [1968, 1.1], [1973, 0.3], [1977, 1.2], [1982, 0.4], [1987, 1.3], [1991, 1.8], [1995, 1.0], [2000, 2.0], [2004, 1.2], [2009, 2.1], [2014, 1.3], [2019, 2.2], [2022, 1.7]],
  [[1962, -0.1], [1966, -1.0], [1971, 0.1], [1975, -0.8], [1980, 0.3], [1984, -0.7], [1989, 0.2], [1992, -0.6], [1996, 0.4], [2001, -0.5], [2006, 0.5], [2011, -0.4], [2016, 0.6], [2022, 0.0]],
  [[1991, 1.2], [1994, 1.9], [1997, 1.3], [2000, 2.1], [2003, 1.5], [2006, 2.2], [2009, 1.6], [2012, 2.3], [2015, 1.7], [2018, 2.2], [2022, 1.8]],
  [[1991, -0.6], [1994, 0.2], [1997, -0.8], [2000, 0.0], [2003, -1.0], [2006, -0.2], [2009, -1.1], [2012, -0.3], [2015, -1.2], [2018, -0.4], [2022, -0.9]],
  [[1991, -1.8], [1994, -1.0], [1997, -2.0], [2000, -1.2], [2003, -2.2], [2006, -1.4], [2009, -2.4], [2012, -1.5], [2015, -2.6], [2018, -1.7], [2022, -2.4]],
  [[1991, 2.0], [1995, 1.4], [1999, 2.3], [2003, 1.6], [2007, 2.5], [2011, 1.8], [2015, 2.6], [2019, 1.9], [2022, 2.3]],
  [[1991, 0.4], [1995, 1.2], [1999, 0.5], [2003, 1.3], [2007, 0.6], [2011, 1.4], [2015, 0.7], [2019, 1.5], [2022, 0.9]],
  [[1789, -2.9], [1840, -2.6], [1900, -2.9], [1946, -2.3], [2022, -2.6]],
  [[1789, -1.6], [1818, -2.2], [1856, -1.3], [1893, -2.0], [1930, -1.1], [1960, -0.5], [1991, 0.7], [2022, 0.9]],
  [[1789, 0.9], [1811, 1.3], [1842, 0.5], [1880, 1.0], [1920, 0.3], [1946, 1.2], [1991, 2.0], [2022, 2.2]],
  [[1789, -2.4], [1822, -1.9], [1861, -2.6], [1899, -1.7], [1933, -2.4], [1970, -1.5], [2022, -1.8]],
  [[1789, 0.0], [1835, -0.6], [1873, 0.1], [1908, 0.7], [1946, 0.2], [1980, 1.0], [2022, 1.4]],
  [[1805, -1.2], [1838, -0.7], [1876, -1.6], [1902, -0.8], [1938, -1.8], [1965, -0.9], [1991, 0.4], [2022, 0.6]],
  [[1789, 1.7], [1846, 2.2], [1875, 1.8], [1935, 2.3], [1970, 2.9], [2022, 3.2]],
  [[1789, -1.9], [1826, -2.5], [1866, -1.8], [1897, -2.6], [1928, -1.9], [1952, -2.5], [1991, -0.9], [2022, -1.3]],
];
const COUNTRIES_TRANSPARENCY: Pt[][] = [
  [[1789, 1.8], [1820, 1.5], [1845, 1.9], [1880, 1.4], [1900, 1.7], [1925, 1.2], [1945, 2.3], [1960, 2.8], [1990, 2.6], [2012, 3.6], [2022, 3.2]],
  [[1808, 2.4], [1860, 2.3], [1900, 2.0], [1932, 1.6], [1950, 2.9], [1985, 3.1], [2022, 2.9]],
  [[1789, -1.5], [1806, -0.7], [1825, -1.6], [1842, -0.5], [1863, -1.3], [1880, -0.2], [1898, -1.1], [1917, -0.1], [1937, -1.4], [1945, 0.6], [1961, -0.4], [1980, 0.5], [1993, 1.4], [2009, 0.8], [2022, 1.1]],
  [[1789, -3.3], [1830, -2.9], [1860, -3.2], [1895, -2.5], [1920, -3.5], [1950, -2.7], [1972, -3.3], [1990, -2.6], [2008, -3.4], [2022, -3.0]],
  [[1789, 0.5], [1793, 1.8], [1797, 0.4], [1815, -0.3], [1836, 0.7], [1854, -0.2], [1875, 0.9], [1901, 0.1], [1918, 1.0], [1940, -0.5], [1952, 1.2], [1973, 0.3], [1991, 1.8], [2022, 1.5]],
  [[1789, -2.4], [1814, -1.8], [1837, -2.6], [1858, -1.5], [1884, -2.3], [1904, -1.2], [1929, -2.5], [1944, -1.0], [1957, -2.4], [1976, -1.3], [1989, -2.7], [1997, -0.9], [2022, -1.5]],
  [[1795, -0.8], [1812, 0.3], [1831, -0.9], [1851, 0.5], [1872, -0.6], [1893, 0.6], [1912, -0.9], [1935, 0.4], [1946, -1.6], [1955, -0.3], [1968, -1.5], [1986, -0.1], [1995, 0.9], [2022, 0.3]],
  [[1800, -1.9], [1822, -2.8], [1848, -1.7], [1869, -2.5], [1890, -1.4], [1910, -2.9], [1934, -1.8], [1948, -3.1], [1962, -2.1], [1984, -3.0], [1993, -1.6], [2014, -2.5], [2022, -2.1]],
  [[1820, 0.9], [1840, 1.5], [1857, 0.8], [1877, 1.3], [1899, 0.6], [1921, 1.4], [1942, 0.4], [1951, 1.6], [1970, 0.9], [1988, 1.9], [2000, 2.5], [2022, 2.2]],
  [[1850, -1.0], [1868, -0.1], [1886, -1.4], [1903, -0.3], [1923, -1.7], [1943, -0.6], [1956, -1.9], [1974, -0.7], [1990, 0.2], [2006, -0.6], [2022, -0.2]],
  [[1900, -0.4], [1911, 0.9], [1927, -0.6], [1945, 0.3], [1958, -0.9], [1967, 0.7], [1979, -0.4], [1991, 1.1], [2004, 0.4], [2022, 0.8]],
  [[1900, -2.0], [1915, -1.1], [1931, -2.6], [1946, -3.4], [1956, -2.2], [1970, -2.9], [1983, -1.8], [1994, -0.6], [2010, -1.4], [2022, -0.9]],
  [[1905, 1.1], [1922, 1.8], [1938, 0.9], [1947, 2.0], [1964, 1.4], [1978, 2.4], [1993, 2.0], [2006, 2.8], [2022, 2.5]],
  [[1918, -1.3], [1928, -0.2], [1941, -1.8], [1951, -0.6], [1963, -1.6], [1975, -0.4], [1987, -1.5], [1996, 0.1], [2012, -0.7], [2022, -0.4]],
  [[1946, 0.9], [1954, -0.2], [1963, 1.1], [1973, 0.1], [1982, 1.3], [1991, 0.6], [1999, 1.7], [2011, 1.0], [2022, 1.3]],
  [[1948, -2.4], [1958, -1.3], [1967, -2.6], [1977, -1.5], [1989, -2.3], [1995, -0.7], [2007, -1.8], [2022, -1.2]],
  [[1952, 2.6], [1962, 1.9], [1972, 2.9], [1985, 2.2], [1996, 2.9], [2018, 3.8], [2022, 3.3]],
  [[1955, -0.8], [1966, 0.2], [1976, -1.1], [1984, 0.4], [1992, -0.3], [2003, 0.9], [2016, 0.2], [2022, 0.5]],
  [[1960, -3.3], [1970, -2.4], [1980, -3.6], [1990, -2.8], [1999, -2.0], [2009, -2.9], [2022, -2.5]],
  [[1991, 1.5], [1998, 2.3], [2005, 1.2], [2013, 2.6], [2022, 1.9]],
  [[1991, 0.2], [1997, 1.1], [2004, -0.4], [2010, 0.9], [2017, 0.0], [2022, 0.4]],
  [[1991, -1.4], [1998, -0.3], [2006, -2.0], [2014, -0.9], [2022, -1.7]],
  [[1991, 0.8], [2000, -0.1], [2008, 1.3], [2015, 0.3], [2022, 0.7]],
  [[1991, -0.5], [1996, -1.8], [2003, -0.8], [2011, -2.2], [2022, -1.3]],
  [[1789, -2.0], [1835, -1.5], [1870, -2.2], [1905, -1.6], [1935, -2.3], [1960, -1.2], [1991, -0.1], [2022, -0.6]],
  [[1789, 1.0], [1826, 0.6], [1862, 1.4], [1895, 0.8], [1925, 1.6], [1946, 0.9], [1970, 1.7], [1991, 2.4], [2022, 2.1]],
  [[1789, -0.3], [1818, -1.0], [1846, 0.1], [1874, -0.8], [1906, 0.2], [1931, -0.9], [1946, 0.5], [1978, -0.3], [1995, 0.6], [2022, 0.2]],
  [[1800, -2.9], [1842, -2.2], [1883, -2.8], [1917, -2.0], [1946, -2.9], [1970, -2.0], [1991, -1.2], [2022, -1.9]],
  [[1820, 0.2], [1850, 1.0], [1880, 0.3], [1912, 1.2], [1938, 0.2], [1950, 1.3], [1980, 0.6], [1993, 1.6], [2022, 1.2]],
  [[1850, -1.7], [1873, -0.8], [1897, -1.9], [1920, -0.9], [1945, -2.1], [1965, -0.9], [1985, -1.8], [1996, -0.4], [2022, -1.0]],
  [[1900, 0.6], [1916, -0.2], [1933, 0.9], [1946, -0.4], [1961, 0.7], [1976, -0.2], [1991, 1.3], [2022, 0.9]],
  [[1905, -2.7], [1924, -1.8], [1941, -3.0], [1953, -1.9], [1969, -2.8], [1986, -1.7], [1995, -0.9], [2022, -1.4]],
  [[1918, 1.6], [1934, 0.8], [1946, 1.8], [1964, 1.1], [1980, 2.0], [1991, 2.7], [2022, 2.4]],
  [[1946, -1.0], [1957, 0.1], [1968, -1.3], [1980, -0.1], [1991, -1.1], [2004, 0.2], [2022, -0.4]],
  [[1948, 2.0], [1962, 2.6], [1976, 1.8], [1991, 2.8], [2010, 3.3], [2022, 3.0]],
  [[1952, -1.8], [1962, -2.8], [1974, -1.6], [1986, -2.6], [1995, -1.3], [2022, -2.0]],
  [[1960, 0.0], [1971, 0.9], [1982, -0.4], [1991, 1.0], [2005, 0.3], [2022, 0.7]],
  [[1962, -0.6], [1974, -1.6], [1985, -0.3], [1992, 0.5], [2008, -0.5], [2022, -0.1]],
  [[1991, 2.1], [1998, 1.4], [2006, 2.5], [2015, 1.7], [2022, 2.2]],
  [[1991, -0.2], [1996, 0.8], [2004, 0.1], [2012, 1.1], [2022, 0.5]],
  [[1991, -2.4], [1999, -1.5], [2007, -2.8], [2016, -1.9], [2022, -3.3]],
  [[1991, 1.2], [2000, 0.5], [2009, 1.6], [2017, 0.9], [2022, 1.3]],
  [[1991, -1.0], [1997, 0.1], [2006, -1.2], [2014, -0.1], [2022, -0.7]],
  [[1991, 2.5], [2002, 3.0], [2012, 2.3], [2022, 2.7]],
  [[1789, -2.6], [1880, -2.4], [1900, -1.9], [1946, -2.5], [1991, -1.3], [2022, -1.7]],
  [[1789, -1.1], [1860, -0.9], [1900, -0.5], [1946, -1.1], [1991, 0.1], [2022, -0.3]],
  [[1789, 0.8], [1880, 0.7], [1925, 1.2], [1946, 1.6], [2022, 2.0]],
  [[1789, -1.8], [1900, -1.5], [1946, -0.7], [1991, 0.7], [2022, 0.9]],
  [[1789, 0.1], [1870, 0.3], [1913, 0.6], [1946, 0.0], [1991, 1.2], [2022, 0.9]],
  [[1795, 1.4], [1880, 1.2], [1930, 1.6], [1960, 2.2], [2022, 2.6]],
  [[1800, -3.0], [1900, -2.8], [1940, -3.3], [1975, -2.6], [2022, -2.9]],
  [[1789, -0.5], [1850, -0.6], [1900, -1.0], [1946, -0.1], [1991, 0.6], [2022, 0.3]],
  [[1946, -1.4], [1950, -0.7], [1954, -1.8], [1959, -1.1], [1963, -2.2], [1968, -1.4], [1972, -0.6], [1977, -1.7], [1982, -1.0], [1987, -1.9], [1991, 0.0], [1995, 0.8], [1999, 0.2], [2004, 1.1], [2008, 0.5], [2013, 1.3], [2018, 0.7], [2022, 1.0]],
  [[1946, 1.1], [1951, 0.4], [1955, 1.4], [1960, 0.7], [1964, 1.6], [1969, 0.9], [1974, 1.8], [1979, 1.1], [1984, 2.0], [1988, 1.3], [1991, 2.2], [1996, 1.7], [2001, 2.5], [2006, 1.9], [2011, 2.7], [2016, 2.0], [2022, 2.3]],
  [[1946, -2.7], [1950, -2.0], [1955, -3.1], [1960, -2.3], [1965, -2.9], [1970, -1.9], [1975, -3.0], [1980, -2.2], [1985, -2.8], [1991, -1.7], [1996, -2.5], [2001, -1.6], [2006, -2.8], [2011, -2.0], [2016, -3.0], [2022, -2.4]],
  [[1950, 0.1], [1954, -0.6], [1958, 0.4], [1962, -0.3], [1967, 0.6], [1971, -0.4], [1976, 0.5], [1981, -0.5], [1986, 0.3], [1991, 0.9], [1995, 0.2], [2000, 1.1], [2005, 0.4], [2010, 1.3], [2015, 0.6], [2022, 0.9]],
  [[1952, -0.9], [1956, -1.7], [1961, -0.5], [1965, -1.4], [1970, -0.3], [1974, -1.5], [1979, -0.4], [1983, -1.3], [1988, -0.2], [1992, 0.4], [1997, -0.5], [2002, 0.5], [2007, -0.4], [2012, 0.6], [2017, -0.3], [2022, 0.2]],
  [[1955, 2.0], [1959, 2.5], [1964, 1.7], [1969, 2.6], [1973, 1.9], [1978, 2.7], [1983, 2.1], [1988, 2.8], [1992, 2.3], [1997, 3.0], [2003, 2.4], [2008, 2.9], [2014, 2.3], [2022, 2.6]],
  [[1958, -1.9], [1962, -1.1], [1967, -2.4], [1972, -1.3], [1976, -2.5], [1981, -1.5], [1986, -2.3], [1991, -1.0], [1996, -1.9], [2001, -0.9], [2006, -2.1], [2012, -1.2], [2017, -2.4], [2022, -1.5]],
  [[1960, 0.7], [1964, -0.1], [1968, 1.0], [1973, 0.2], [1977, 1.1], [1982, 0.3], [1987, 1.2], [1991, 1.7], [1995, 0.9], [2000, 1.9], [2004, 1.1], [2009, 2.0], [2014, 1.2], [2019, 2.1], [2022, 1.6]],
  [[1962, -0.2], [1966, -1.1], [1971, 0.0], [1975, -0.9], [1980, 0.2], [1984, -0.8], [1989, 0.1], [1992, -0.7], [1996, 0.3], [2001, -0.6], [2006, 0.4], [2011, -0.5], [2016, 0.5], [2022, -0.1]],
  [[1991, 1.3], [1994, 2.0], [1997, 1.4], [2000, 2.2], [2003, 1.6], [2006, 2.3], [2009, 1.7], [2012, 2.4], [2015, 1.8], [2018, 2.3], [2022, 1.9]],
  [[1991, -0.7], [1994, 0.1], [1997, -0.9], [2000, -0.1], [2003, -1.1], [2006, -0.3], [2009, -1.2], [2012, -0.4], [2015, -1.3], [2018, -0.5], [2022, -1.0]],
  [[1991, -1.9], [1994, -1.1], [1997, -2.1], [2000, -1.3], [2003, -2.3], [2006, -1.5], [2009, -2.5], [2012, -1.6], [2015, -2.7], [2018, -1.8], [2022, -2.6]],
  [[1991, 1.9], [1995, 1.3], [1999, 2.2], [2003, 1.5], [2007, 2.4], [2011, 1.7], [2015, 2.5], [2019, 1.8], [2022, 2.2]],
  [[1991, 0.3], [1995, 1.1], [1999, 0.4], [2003, 1.2], [2007, 0.5], [2011, 1.3], [2015, 0.6], [2019, 1.4], [2022, 0.8]],
  [[1789, -3.1], [1840, -2.9], [1900, -3.2], [1946, -2.6], [2022, -2.8]],
  [[1789, -1.3], [1818, -2.0], [1856, -1.1], [1893, -1.8], [1930, -0.9], [1960, -0.3], [1991, 0.5], [2022, 0.7]],
  [[1789, 0.6], [1811, 1.0], [1842, 0.2], [1880, 0.8], [1920, 0.1], [1946, 1.0], [1991, 1.7], [2022, 1.9]],
  [[1789, -2.2], [1822, -1.7], [1861, -2.4], [1899, -1.5], [1933, -2.2], [1970, -1.3], [2022, -1.6]],
  [[1789, -0.2], [1835, -0.5], [1873, 0.0], [1908, 0.6], [1946, -0.2], [1980, 0.8], [2022, 1.2]],
  [[1805, -1.6], [1838, -1.1], [1876, -2.0], [1902, -1.2], [1938, -2.2], [1965, -1.3], [1991, -0.1], [2022, 0.3]],
  [[1789, 1.2], [1846, 1.0], [1890, 1.5], [1935, 1.1], [1970, 1.9], [2022, 2.4]],
  [[1789, -2.7], [1826, -2.2], [1866, -2.9], [1897, -2.1], [1928, -2.8], [1952, -2.0], [1991, -1.5], [2022, -2.2]],
];

const toRows = (pts: Pt[]) => pts.map(([year, v]) => ({ year, v }));

const PLOT_H = 230;
const PANEL_W = 473;
const PAD_TOP = 12;

function Panel({
  title,
  mean,
  countries,
  x,
  top,
  showX,
  showY,
}: {
  title: string;
  mean: Pt[];
  countries: Pt[][];
  x: number;
  top: number;
  showX: boolean;
  showY: boolean;
}) {
  const axisH = showX ? 46 : 0;
  const chartLeft = showY ? 0 : x;
  const chartW = showY ? x + PANEL_W : PANEL_W;
  return (
    <>
      <div
        style={{
          position: "absolute",
          left: x,
          top: top - 47,
          width: PANEL_W,
          height: 46,
          boxSizing: "border-box",
          background: "#D9D9D9",
          border: "1.4px solid #333",
          display: "flex",
          alignItems: "center",
          justifyContent: "center",
          fontSize: 21,
          color: "#1A1A1A",
        }}
      >
        {title}
      </div>
      <div style={{ position: "absolute", left: chartLeft, top: top - PAD_TOP }}>
        <LineChart
          width={chartW}
          height={PLOT_H + axisH + PAD_TOP}
          margin={{ top: PAD_TOP, right: 0, bottom: 0, left: 0 }}
        >
          <XAxis
            dataKey="year"
            type="number"
            domain={X_DOMAIN}
            ticks={X_TICKS}
            allowDataOverflow
            hide={!showX}
            height={46}
            tickSize={6}
            tickMargin={9}
            axisLine={false}
            tickLine={{ stroke: "#333", strokeWidth: 1.2 }}
            tick={{ fill: "#4D4D4D", fontSize: 19, fontFamily: FONT }}
          />
          <YAxis
            type="number"
            domain={Y_DOMAIN}
            ticks={Y_TICKS}
            allowDataOverflow
            hide={!showY}
            width={84}
            tickSize={6}
            tickMargin={5}
            axisLine={false}
            tickLine={{ stroke: "#333", strokeWidth: 1.2 }}
            tick={{ fill: "#4D4D4D", fontSize: 19, fontFamily: FONT }}
          />
          {X_MINOR.map((v) => (
            <ReferenceLine key={"xm" + v} x={v} stroke="#EBEBEB" strokeWidth={1} />
          ))}
          {Y_MINOR.map((v) => (
            <ReferenceLine key={"ym" + v} y={v} stroke="#EBEBEB" strokeWidth={1} />
          ))}
          {X_TICKS.map((v) => (
            <ReferenceLine key={"xM" + v} x={v} stroke="#EBEBEB" strokeWidth={2} />
          ))}
          {Y_TICKS.map((v) => (
            <ReferenceLine key={"yM" + v} y={v} stroke="#EBEBEB" strokeWidth={2} />
          ))}
          {WAR_PERIODS.map(([a, b]) => (
            <ReferenceArea key={"war" + a} x1={a} x2={b} fill="#C4C4C4" fillOpacity={0.7} stroke="none" />
          ))}
          <ReferenceLine x={COLD_WAR_END} stroke="#9C9C9C" strokeWidth={2} />
          {countries.map((c, i) => (
            <Line
              key={"c" + i}
              data={toRows(c)}
              dataKey="v"
              type="stepAfter"
              stroke="#000"
              strokeOpacity={0.45}
              strokeWidth={1}
              dot={false}
              activeDot={false}
              isAnimationActive={false}
            />
          ))}
          <Line
            data={toRows(mean)}
            dataKey="v"
            type="linear"
            stroke="#4169E1"
            strokeWidth={4.5}
            dot={false}
            activeDot={false}
            isAnimationActive={false}
          />
        </LineChart>
      </div>
      <div
        style={{
          position: "absolute",
          left: x,
          top,
          width: PANEL_W,
          height: PLOT_H,
          boxSizing: "border-box",
          border: "1.4px solid #333",
          pointerEvents: "none",
        }}
      />
    </>
  );
}

export default function App() {
  return (
    <div
      style={{
        position: "absolute",
        left: 0,
        top: 0,
        width: 1036,
        height: 651,
        overflow: "hidden",
        background: "#fff",
        fontFamily: FONT,
      }}
    >
      <Panel title={PANEL_TITLES[0]} mean={MEAN_RELIGION} countries={COUNTRIES_RELIGION} x={84} top={57} showX={false} showY />
      <Panel title={PANEL_TITLES[1]} mean={MEAN_WOMEN} countries={COUNTRIES_WOMEN} x={571} top={57} showX={false} showY={false} />
      <Panel title={PANEL_TITLES[2]} mean={MEAN_TORTURE} countries={COUNTRIES_TORTURE} x={84} top={350} showX showY />
      <Panel title={PANEL_TITLES[3]} mean={MEAN_TRANSPARENCY} countries={COUNTRIES_TRANSPARENCY} x={571} top={350} showX showY={false} />
      <div
        style={{
          position: "absolute",
          left: 21 - 100,
          top: 318 - 16,
          width: 200,
          height: 32,
          lineHeight: "32px",
          textAlign: "center",
          fontSize: 25,
          color: "#000",
          transform: "rotate(-90deg)",
        }}
      >
        人権保障
      </div>
      <div
        style={{
          position: "absolute",
          left: 564 - 50,
          top: 633 - 16,
          width: 100,
          height: 32,
          lineHeight: "32px",
          textAlign: "center",
          fontSize: 25,
          color: "#000",
        }}
      >
        年
      </div>
    </div>
  );
}
